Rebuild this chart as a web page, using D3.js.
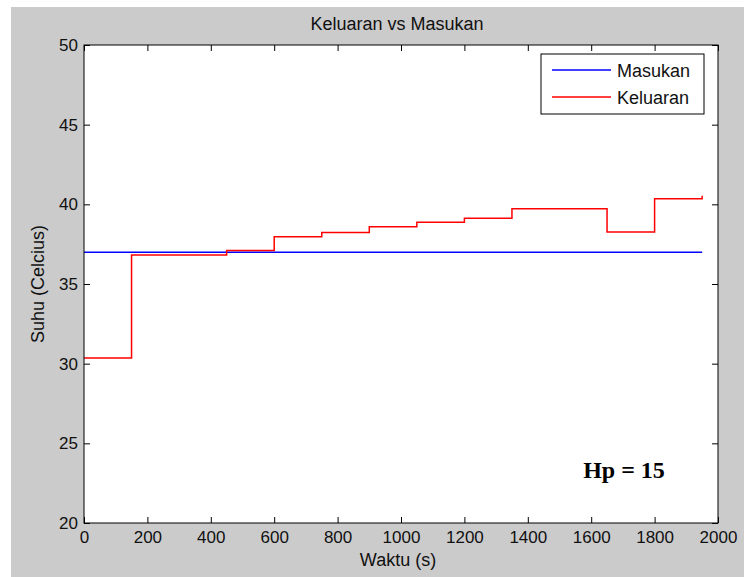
<!DOCTYPE html>
<html><head><meta charset="utf-8">
<script src="https://cdn.jsdelivr.net/npm/d3@7"></script>
<style>html,body{margin:0;padding:0;background:#fff;}</style>
</head><body>
<script>
// Data
const timeSteps = [0,150,300,450,600,750,900,1050,1200,1350,1500,1650,1800,1950];
const keluaran  = [30.35,36.82,36.82,37.1,37.97,38.24,38.6,38.88,39.12,39.73,39.73,38.26,40.35,40.54];
const masukanTime = [0,1950];
const masukan   = [37.0,37.0];
const xTicks = [0,200,400,600,800,1000,1200,1400,1600,1800,2000];
const yTicks = [20,25,30,35,40,45,50];
const seriesNames = ["Masukan","Keluaran"];
const seriesColors = ["#0000ff","#ff0000"];

const W=744,H=577;
const m={left:84,right:718,top:45,bottom:523};
const svg=d3.select("body").append("svg").attr("width",W).attr("height",H)
  .style("font-family","'Liberation Sans',Arial,sans-serif");

svg.append("rect").attr("x",11).attr("y",7).attr("width",W-11).attr("height",H-7).attr("fill","#cbcbcb");

const x=d3.scaleLinear().domain([0,2000]).range([m.left,m.right]);
const y=d3.scaleLinear().domain([20,50]).range([m.bottom,m.top]);

svg.append("rect").attr("x",m.left).attr("y",m.top).attr("width",m.right-m.left).attr("height",m.bottom-m.top).attr("fill","#fff");

// lines
const lineBlue=d3.line().x((d,i)=>x(masukanTime[i])).y(d=>y(d));
svg.append("path").attr("d",lineBlue(masukan)).attr("fill","none").attr("stroke",seriesColors[0]).attr("stroke-width",1.5);
const lineRed=d3.line().x((d,i)=>x(timeSteps[i])).y(d=>y(d)).curve(d3.curveStepAfter);
svg.append("path").attr("d",lineRed(keluaran)).attr("fill","none").attr("stroke",seriesColors[1]).attr("stroke-width",1.5);

// axes
const fs="17px";
const ax=(g)=>{g.select(".domain").remove();g.selectAll("line").attr("stroke","#000");};
svg.append("g").attr("transform",`translate(0,${m.bottom})`)
  .call(d3.axisBottom(x).tickValues(xTicks).tickSize(-6).tickPadding(8).tickFormat(d3.format("d")))
  .call(ax).selectAll("text").attr("font-size",fs).attr("fill","#111").attr("font-family","'Liberation Sans',Arial,sans-serif");
svg.append("g").attr("transform",`translate(0,${m.top})`)
  .call(d3.axisTop(x).tickValues(xTicks).tickSize(-6).tickFormat(""))
  .call(ax);
svg.append("g").attr("transform",`translate(${m.left},0)`)
  .call(d3.axisLeft(y).tickValues(yTicks).tickSize(-6).tickPadding(6).tickFormat(d3.format("d")))
  .call(ax).selectAll("text").attr("font-size",fs).attr("fill","#111").attr("font-family","'Liberation Sans',Arial,sans-serif");
svg.append("g").attr("transform",`translate(${m.right},0)`)
  .call(d3.axisRight(y).tickValues(yTicks).tickSize(-6).tickFormat(""))
  .call(ax);
svg.append("rect").attr("x",m.left).attr("y",m.top).attr("width",m.right-m.left).attr("height",m.bottom-m.top)
  .attr("fill","none").attr("stroke","#000").attr("stroke-width",1);

// texts
svg.append("text").attr("x",397).attr("y",30).attr("text-anchor","middle").attr("font-size","18px").attr("fill","#111").text("Keluaran vs Masukan");
svg.append("text").attr("x",398).attr("y",566).attr("text-anchor","middle").attr("font-size","18px").attr("fill","#111").text("Waktu (s)");
svg.append("text").attr("transform",`translate(44,${(m.top+m.bottom)/2}) rotate(-90)`).attr("text-anchor","middle").attr("font-size","18px").attr("fill","#111").text("Suhu (Celcius)");
svg.append("text").attr("x",624).attr("y",478).attr("text-anchor","middle").attr("font-size","24px").attr("font-weight","bold")
  .attr("font-family","'Liberation Serif','Times New Roman',serif").attr("fill","#000").text("Hp = 15");

// legend
const lg=svg.append("g");
lg.append("rect").attr("x",541).attr("y",54).attr("width",163).attr("height",60).attr("fill","#fff").attr("stroke","#000");
seriesNames.forEach((n,i)=>{
  const yy=70+i*27;
  lg.append("line").attr("x1",552).attr("x2",611).attr("y1",yy).attr("y2",yy).attr("stroke",seriesColors[i]).attr("stroke-width",1.5);
  lg.append("text").attr("x",617).attr("y",yy+6.5).attr("font-size","18px").attr("fill","#111").text(n);
});
</script>
</body></html>
